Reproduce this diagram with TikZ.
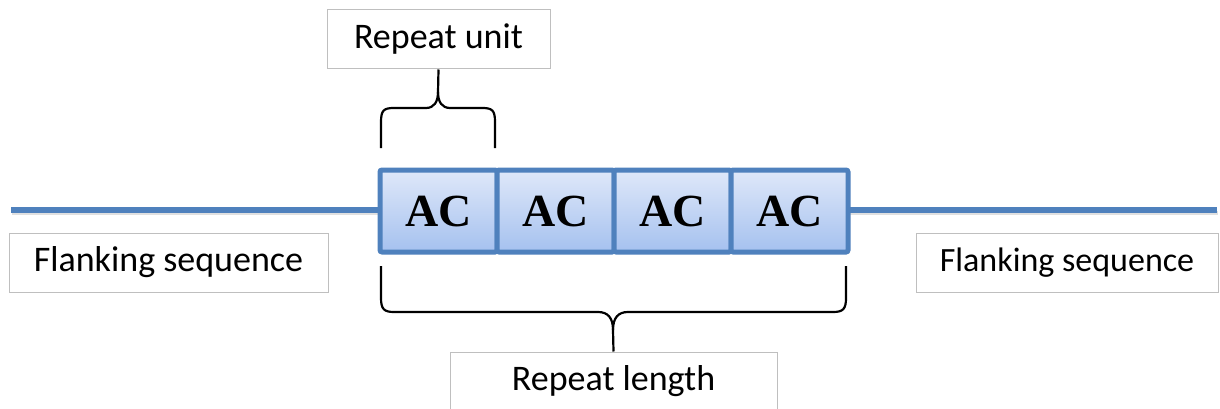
\documentclass[tikz,border=0pt]{standalone}
\usepackage{fontspec}
\setmainfont{Carlito}
\newfontfamily\acfont{Liberation Serif}
\usetikzlibrary{shadows}
\definecolor{seqblue}{HTML}{4F81BD}
\definecolor{boxtop}{HTML}{DFE8F9}
\definecolor{boxbot}{HTML}{A5C1EF}
\definecolor{lblgray}{HTML}{BFBFBF}
\tikzset{
  acbox/.style={draw=seqblue, line width=5pt, rounded corners=2pt,
    top color=boxtop, bottom color=boxbot,
    minimum width=117pt, minimum height=82pt, inner sep=0pt,
    font=\acfont\bfseries\fontsize{46}{50}\selectfont,
    drop shadow={opacity=0.2, shadow xshift=2pt, shadow yshift=-2pt}},
  lbl/.style={draw=lblgray, line width=1pt, fill=white, inner sep=0pt,
    minimum height=59pt, font=\fontsize{36}{43}\selectfont},
  seqline/.style={seqblue, line width=5.5pt},
  seqshadow/.style={black, opacity=0.12, line width=4pt},
  bracestyle/.style={black, line width=2.2pt}
}
\begin{document}
\begin{tikzpicture}[x=1pt, y=-1pt]
\useasboundingbox (0,0) rectangle (1220,409);
% sequence line
\coordinate (lineL) at (11,210);
\coordinate (lineR) at (1217,210);
\coordinate (shL) at (12,213);
\coordinate (shR) at (1218,213);
\draw[seqshadow] (shL) -- (shR);
\draw[seqline] (lineL) -- (lineR);
% repeat boxes
\node[acbox] (b1) at (438.5,211) {AC};
\node[acbox] (b2) at (555.5,211) {AC};
\node[acbox] (b3) at (672.5,211) {AC};
\node[acbox] (b4) at (789.5,211) {AC};
% labels
\node[lbl, minimum width=223pt] (ru) at (438.5,39.5) {Repeat unit};
\node[lbl, minimum width=319pt] (fl) at (168.5,262.5) {Flanking sequence};
\node[lbl, minimum width=302pt, font=\fontsize{34}{41}\selectfont] (fr) at (1067,262.5) {Flanking sequence};
\node[lbl, minimum width=327pt] (rl) at (613.5,381.5) {Repeat length};
% upper brace
\coordinate (ua) at (381,148);
\coordinate (ub) at (495,148);
\draw[bracestyle] (ua) -- (381,122) .. controls (381,110) and (384,108) .. (394,108)
  -- (426,108) .. controls (434,108) and (438,102) .. (438,92) -- (ru.south);
\draw[bracestyle] (ub) -- (495,122) .. controls (495,110) and (492,108) .. (482,108)
  -- (450,108) .. controls (442,108) and (438,102) .. (438,92);
% lower brace
\coordinate (la) at (381,266);
\coordinate (lb) at (846,266);
\draw[bracestyle] (la) -- (381,298) .. controls (381,309) and (384,312) .. (394,312)
  -- (598,312) .. controls (608,312) and (613,318) .. (613,330) -- (rl.north);
\draw[bracestyle] (lb) -- (846,298) .. controls (846,309) and (843,312) .. (833,312)
  -- (628,312) .. controls (618,312) and (613,318) .. (613,330);
\end{tikzpicture}
\end{document}
